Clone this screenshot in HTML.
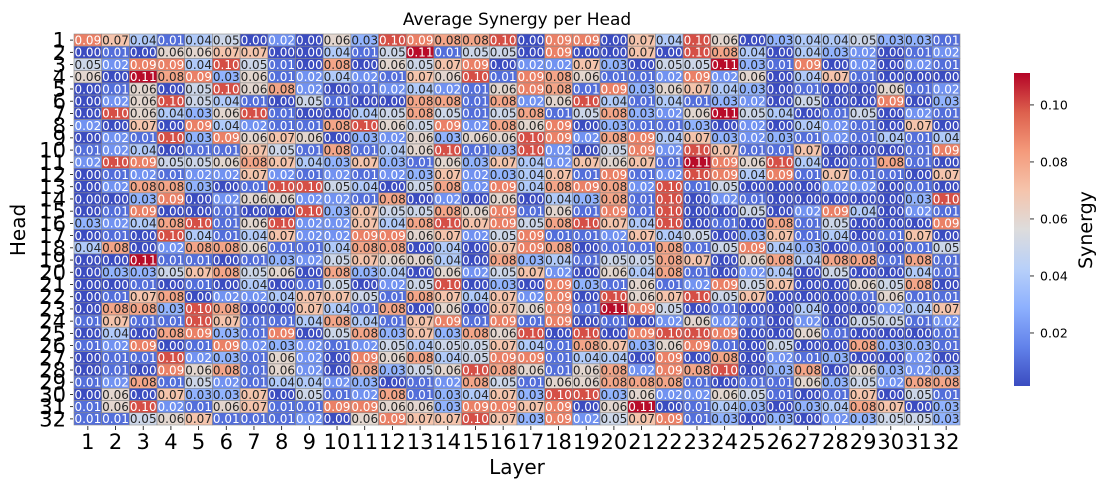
<!DOCTYPE html>
<html><head><meta charset="utf-8"><style>
html,body{margin:0;padding:0;background:#fff;}
svg{display:block;font-family:"DejaVu Sans","Liberation Sans",sans-serif;}
</style></head><body>
<svg id="chart" width="1105" height="490" viewBox="0 0 1105 490" xmlns="http://www.w3.org/2000/svg">
<defs>
<linearGradient id="cbgrad" x1="0" y1="1" x2="0" y2="0">
<stop offset="0" stop-color="#3b4cc0"/><stop offset="0.125" stop-color="#6282ea"/>
<stop offset="0.25" stop-color="#8db0fe"/><stop offset="0.375" stop-color="#b8d0f9"/>
<stop offset="0.5" stop-color="#dddcdc"/><stop offset="0.625" stop-color="#f5c4ac"/>
<stop offset="0.75" stop-color="#f49a7b"/><stop offset="0.875" stop-color="#dd604d"/>
<stop offset="1" stop-color="#b40426"/>
</linearGradient>
</defs>
<text x="517" y="25" font-size="17" text-anchor="middle" fill="#000">Average Synergy per Head</text>
<g id="cells"></g>
<g id="yaxis"></g>
<g id="xaxis"></g>
<text x="517" y="474" font-size="20" text-anchor="middle">Layer</text>
<text x="25" y="230" font-size="20" text-anchor="middle" transform="rotate(-90 25 230)">Head</text>
<rect x="1014" y="73" width="16" height="313" fill="url(#cbgrad)"/>
<g id="cbticks"></g>
<text x="1092" y="230" font-size="19" text-anchor="middle" transform="rotate(-90 1092 230)">Synergy</text>
</svg>
<script>
// Values in hundredths (0.09 -> 9); rows = heads 1..32, columns = layers 1..32
const heads = Array.from({length:32},(_,i)=>String(i+1));
const layers = Array.from({length:32},(_,i)=>String(i+1));
const cbTicks = [0.02,0.04,0.06,0.08,0.10];
const synergyHundredths = [
[9,7,4,1,4,5,0,2,0,6,3,10,9,8,8,10,0,9,9,0,7,4,10,6,0,3,4,4,5,3,3,1],
[0,1,0,6,6,7,7,0,0,4,1,5,11,1,5,5,0,9,0,0,7,0,10,8,4,0,4,3,2,0,1,2],
[5,2,9,9,4,10,5,1,0,8,0,6,5,7,9,0,2,2,7,3,0,5,5,11,3,1,9,0,2,0,2,1],
[6,0,11,8,9,3,6,1,2,4,2,1,7,6,10,1,9,8,6,1,1,2,9,2,6,0,4,7,1,0,0,0],
[0,1,6,0,5,10,6,8,2,0,1,2,4,2,1,6,9,8,1,9,3,6,7,4,3,0,1,0,0,6,1,2],
[0,2,6,10,5,4,1,0,5,1,0,0,8,8,1,8,2,6,10,4,1,4,1,3,2,0,5,0,0,9,0,3],
[0,10,6,4,3,6,10,1,0,0,4,5,8,5,1,5,8,1,5,8,3,2,6,11,5,4,0,1,5,0,2,1],
[2,0,7,0,9,4,2,1,1,8,10,6,5,9,2,8,6,9,0,3,1,1,3,0,2,0,4,2,1,0,7,0],
[0,2,1,10,3,9,6,7,6,0,3,2,6,3,6,6,10,9,2,8,9,4,7,3,2,3,1,2,1,4,1,4],
[1,2,4,0,1,1,7,5,1,8,1,4,6,10,1,3,10,2,0,5,9,2,10,7,1,1,7,0,0,0,1,9],
[2,10,9,5,5,6,8,7,4,3,7,3,1,6,3,7,4,2,7,6,7,1,11,9,6,10,4,0,1,8,1,0],
[0,1,2,1,2,2,7,2,1,2,1,2,3,7,2,3,4,7,1,9,1,2,10,9,4,9,1,7,1,1,0,7],
[0,2,8,8,3,0,1,10,10,5,4,0,5,8,2,9,4,8,9,8,2,10,1,5,0,0,0,2,2,0,1,0],
[0,0,3,9,0,2,6,6,2,2,1,8,0,2,0,6,0,4,3,8,1,10,0,2,1,0,0,0,0,0,3,10],
[0,1,9,0,0,1,0,0,10,3,7,5,5,8,6,9,1,6,1,9,1,10,0,0,5,0,2,9,4,0,2,1],
[3,2,4,8,10,1,6,10,2,2,7,4,8,10,7,9,5,8,10,7,4,10,0,1,0,8,1,5,0,0,0,9],
[0,1,0,10,4,1,4,7,2,2,9,9,6,7,2,5,9,1,1,2,7,4,5,0,3,7,1,4,0,1,7,0],
[4,8,0,2,8,8,6,1,1,4,8,8,0,4,0,7,9,8,0,1,1,8,1,5,9,4,3,0,1,0,1,5],
[0,0,11,1,1,0,1,3,2,5,7,6,6,4,0,8,3,4,1,5,5,8,7,0,6,8,4,8,8,1,8,1],
[0,3,3,5,7,8,5,6,0,8,3,4,0,6,2,5,7,2,0,6,4,8,1,0,2,4,0,5,0,0,4,1],
[0,0,1,0,1,0,4,0,1,5,0,2,5,10,0,3,0,9,3,1,6,1,2,9,5,7,0,0,6,5,8,0],
[0,1,7,8,0,2,2,4,7,7,5,1,8,7,4,7,2,9,0,10,6,7,10,5,7,0,0,0,1,6,1,1],
[0,8,8,3,10,8,0,0,7,4,1,8,0,6,0,7,6,9,1,11,9,5,0,1,0,0,4,0,0,2,4,7],
[1,7,1,1,10,7,1,1,4,8,4,1,7,9,1,9,1,9,0,1,0,2,6,2,1,0,2,0,5,5,1,2],
[0,4,0,8,9,3,1,9,0,5,8,3,7,3,8,6,10,0,10,0,9,10,10,9,0,0,6,1,0,0,0,1],
[1,2,9,0,1,9,2,3,2,1,2,5,4,5,5,7,4,1,8,7,3,6,9,1,0,5,0,0,8,3,3,1],
[0,1,1,10,2,3,1,6,2,0,9,6,8,4,5,9,9,1,4,4,0,9,0,8,0,2,1,3,0,0,2,0],
[0,1,0,9,6,8,1,6,2,0,8,3,5,6,10,8,6,1,6,8,2,9,8,10,0,3,8,0,6,3,2,3],
[1,2,8,1,5,2,1,4,4,2,3,0,1,2,8,5,1,6,6,8,8,8,1,0,1,1,6,3,5,2,8,8],
[0,6,0,7,3,3,7,0,5,1,2,8,1,3,4,7,3,10,10,3,6,2,2,6,5,1,0,1,7,0,5,1],
[1,6,10,2,1,6,7,1,1,9,9,6,6,3,9,9,7,9,0,6,11,0,1,4,3,0,3,4,8,7,0,3],
[1,1,5,6,7,1,1,1,2,0,6,9,7,7,10,7,3,9,2,5,7,9,1,3,0,3,0,2,3,5,5,3]
];

const NS="http://www.w3.org/2000/svg";
const X0=74,X1=960,Y0=34,Y1=425;
const cw=(X1-X0)/layers.length, ch=(Y1-Y0)/heads.length;
const vmin=0.0014, vmax=0.1112;
const CB_TOP=73, CB_BOT=386;
function xPos(j){return X0+j*cw;}
function yPos(i){return Y0+i*ch;}
function cbY(v){return CB_BOT-(v-vmin)/(vmax-vmin)*(CB_BOT-CB_TOP);}
const stops=[[0,[59,76,192]],[0.125,[98,130,234]],[0.25,[141,176,254]],[0.375,[184,208,249]],[0.5,[221,220,220]],[0.625,[245,196,172]],[0.75,[244,154,123]],[0.875,[221,96,77]],[1,[180,4,38]]];
function cmap(v){
  let t=Math.max(0,Math.min(1,(v-vmin)/(vmax-vmin)));
  for(let k=0;k<stops.length-1;k++){
    const a=stops[k],b=stops[k+1];
    if(t<=b[0]){const f=(t-a[0])/(b[0]-a[0]);return a[1].map((c,i)=>Math.round(c+(b[1][i]-c)*f));}
  }
  return stops[stops.length-1][1];
}
function lum(rgb){const l=rgb.map(c=>{c/=255;return c<=0.03928?c/12.92:Math.pow((c+0.055)/1.055,2.4);});return 0.2126*l[0]+0.7152*l[1]+0.0722*l[2];}

const cells=document.getElementById('cells');
synergyHundredths.forEach((row,i)=>{
  row.forEach((h,j)=>{
    const v=h/100;
    const rgb=cmap(v);
    const r=document.createElementNS(NS,'rect');
    
    
    r.setAttribute('x',xPos(j));r.setAttribute('y',yPos(i));
    r.setAttribute('width',cw);r.setAttribute('height',ch);
    r.setAttribute('fill','rgb('+rgb.join(',')+')');
    r.setAttribute('stroke','#8a8a8a');r.setAttribute('stroke-width','0.6');
    cells.appendChild(r);
    const t=document.createElementNS(NS,'text');
    
    
    t.setAttribute('x',xPos(j)+cw/2);t.setAttribute('y',yPos(i)+ch/2+4.3);
    t.setAttribute('font-size','12');t.setAttribute('text-anchor','middle');
    t.setAttribute('fill',lum(rgb)>0.408?'#262626':'#ffffff');
    t.textContent=v.toFixed(2);
    cells.appendChild(t);
  });
});
const ya=document.getElementById('yaxis');
heads.forEach((lab,i)=>{
  const yc=yPos(i)+ch/2;
  const tk=document.createElementNS(NS,'line');
  
  
  tk.setAttribute('x1',X0-4);tk.setAttribute('x2',X0-1);tk.setAttribute('y1',yc);tk.setAttribute('y2',yc);
  tk.setAttribute('stroke','#000');tk.setAttribute('stroke-width','0.8');
  ya.appendChild(tk);
  const t=document.createElementNS(NS,'text');
  
  
  t.setAttribute('x',X0-8);t.setAttribute('y',yc+7.5);
  t.setAttribute('font-size','21');t.setAttribute('text-anchor','end');
  t.textContent=lab;
  ya.appendChild(t);
});
const xa=document.getElementById('xaxis');
layers.forEach((lab,j)=>{
  const xc=xPos(j)+cw/2;
  const tk=document.createElementNS(NS,'line');
  
  
  tk.setAttribute('x1',xc);tk.setAttribute('x2',xc);tk.setAttribute('y1',Y1+1);tk.setAttribute('y2',Y1+5);
  tk.setAttribute('stroke','#000');tk.setAttribute('stroke-width','0.8');
  xa.appendChild(tk);
  const t=document.createElementNS(NS,'text');
  
  
  t.setAttribute('x',xc);t.setAttribute('y',Y1+24);
  t.setAttribute('font-size','21');t.setAttribute('text-anchor','middle');
  t.textContent=lab;
  xa.appendChild(t);
});
const cb=document.getElementById('cbticks');
cbTicks.forEach(v=>{
  const y=cbY(v);
  const tk=document.createElementNS(NS,'line');
  
  
  tk.setAttribute('x1',1030);tk.setAttribute('x2',1034);tk.setAttribute('y1',y);tk.setAttribute('y2',y);
  tk.setAttribute('stroke','#000');tk.setAttribute('stroke-width','0.8');
  cb.appendChild(tk);
  const t=document.createElementNS(NS,'text');
  
  
  t.setAttribute('x',1040);t.setAttribute('y',y+4.5);
  t.setAttribute('font-size','12.5');
  t.textContent=v.toFixed(2);
  cb.appendChild(t);
});
</script>
</body></html>
